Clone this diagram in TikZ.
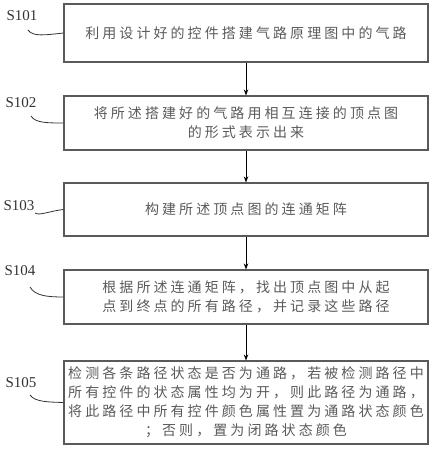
\documentclass[tikz,border=0pt]{standalone}
\usepackage{fontspec}
\setmainfont{Liberation Serif}
\newfontfamily\cjk[LetterSpace=22]{Noto Sans CJK SC}
\usetikzlibrary{arrows.meta}
\definecolor{txt}{HTML}{5A5A5A}
\definecolor{edge}{HTML}{5A5A5A}
\tikzset{
  box/.style={draw=edge, line width=1.1pt, minimum width=364pt, inner sep=0pt,
    align=center, text=txt, font=\cjk\fontsize{14}{19}\selectfont},
  lab/.style={font=\fontsize{15}{16}\selectfont, text=black!80, inner sep=0pt},
  flow/.style={-{Stealth[length=6pt,width=4.5pt]}, line width=0.8pt, black},
  lead/.style={line width=0.8pt, black!80}
}
\begin{document}
\begin{tikzpicture}[x=1pt,y=-1pt]
\useasboundingbox (0,0) rectangle (433,450);
\node[box, minimum height=58pt] (b1) at (246,33) {利用设计好的控件搭建气路原理图中的气路};
\node[box, minimum height=54pt] (b2) at (246,123) {将所述搭建好的气路用相互连接的顶点图\\的形式表示出来};
\node[box, minimum height=53pt] (b3) at (246,209.5) {构建所述顶点图的连通矩阵};
\node[box, minimum height=54pt] (b4) at (246,297) {根据所述连通矩阵，找出顶点图中从起\\点到终点的所有路径，并记录这些路径};
\node[box, minimum height=83pt] (b5) at (246,402.5) {检测各条路径状态是否为通路，若被检测路径中\\所有控件的状态属性均为开，则此路径为通路，\\将此路径中所有控件颜色属性置为通路状态颜色\\；否则，置为闭路状态颜色};
\draw[flow] (b1) -- (b2);
\draw[flow] (b2) -- (b3);
\draw[flow] (b3) -- (b4);
\draw[flow] (b4) -- (b5);
\node[lab] (s1) at (22,16) {S101};
\node[lab] (s2) at (21,103) {S102};
\node[lab] (s3) at (19,206) {S103};
\node[lab] (s4) at (20,271) {S104};
\node[lab] (s5) at (21,383) {S105};
\coordinate (c1) at (28,30);
\coordinate (c2) at (31,116);
\coordinate (c3) at (35,213);
\coordinate (c4) at (30,287);
\coordinate (c5) at (30,395);
\draw[lead] (c1) .. controls (33,37) and (45,35) .. (b1.west);
\draw[lead] (c2) .. controls (35,123) and (48,123) .. (b2.west);
\draw[lead] (c3) .. controls (39,216) and (50,211) .. (b3.west);
\draw[lead] (c4) .. controls (35,296) and (48,297) .. (b4.west);
\draw[lead] (c5) .. controls (35,402) and (48,402) .. (b5.west);
\end{tikzpicture}
\end{document}
